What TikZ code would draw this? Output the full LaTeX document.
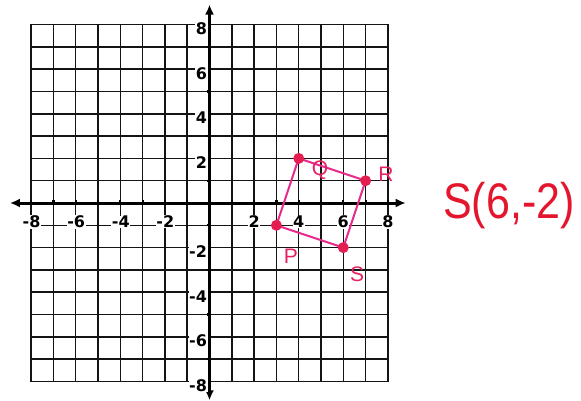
\documentclass[tikz,border=0pt]{standalone}
\usepackage{fontspec}
\setmainfont{Liberation Sans}
\newfontfamily\labfont{DejaVu Sans}
\usetikzlibrary{arrows.meta}
\definecolor{gridk}{RGB}{20,20,20}
\definecolor{pinkline}{RGB}{232,40,140}
\definecolor{pinkdot}{RGB}{228,30,80}
\definecolor{pinklab}{RGB}{230,35,95}
\definecolor{redtxt}{RGB}{228,22,45}
\tikzset{
  gridline/.style={line width=1.5pt, draw=gridk, line cap=rect},
  axisline/.style={line width=3pt, draw=black, {Latex[length=10pt,width=9pt]}-{Latex[length=10pt,width=9pt]}},
  ticklbl/.style={font=\labfont\bfseries\fontsize{16}{16}\selectfont, fill=white, inner sep=0.6pt},
  tickmark/.style={line width=2.2pt, draw=black},
  polyline/.style={line width=2pt, draw=pinkline, line join=round},
  vertex/.style={circle, fill=pinkdot, inner sep=0pt, minimum size=11pt},
  ptlbl/.style={text=pinklab, font=\fontsize{21}{21}\selectfont},
  bigtxt/.style={text=redtxt, font=\fontsize{50}{50}\selectfont},
}
\begin{document}
\begin{tikzpicture}[x=1pt,y=-1pt]
\useasboundingbox (0,0) rectangle (581,401);
\fill[white] (0,0) rectangle (581,401);
\begin{scope}[shift={(209.5,203)}, x=22.3pt, y=22.3pt]
  \foreach \i in {-8,...,8} {
    \draw[gridline] (\i,-8) -- (\i,8);
    \draw[gridline] (-8,\i) -- (8,\i);
  }
  \coordinate (xl) at (-8.95,0);
  \coordinate (xr) at (8.8,0);
  \coordinate (yt) at (0,8.9);
  \coordinate (yb) at (0,-8.85);
  \draw[axisline] (xl) -- (xr);
  \draw[axisline] (yb) -- (yt);
  \foreach \i in {-8,...,8} {
    \draw[tickmark] (\i,-0.06) -- (\i,0.12);
    \draw[tickmark] (-0.12,\i) -- (0.06,\i);
  }
  \foreach \i in {-8,-6,-4,-2} {
    \node[ticklbl] (xlab\i) at (\i+0.02,-0.85) {\i};
    \node[ticklbl, anchor=east] (ylab\i) at (-0.08,\i-0.18) {\i};
  }
  \foreach \i in {2,4,6,8} {
    \node[ticklbl] (xlab\i) at (\i,-0.85) {\i};
    \node[ticklbl, anchor=east] (ylab\i) at (-0.08,\i-0.18) {\i};
  }
  \coordinate (cP) at (3,-1);
  \coordinate (cQ) at (4,2);
  \coordinate (cR) at (7,1);
  \coordinate (cS) at (6,-2);
  \draw[polyline] (cP) -- (cQ) -- (cR) -- (cS) -- cycle;
  \node[vertex] (P) at (cP) {};
  \node[vertex] (Q) at (cQ) {};
  \node[vertex] (R) at (cR) {};
  \node[vertex] (S) at (cS) {};
\end{scope}
\node[ptlbl] (lblQ) at (320,170) {Q};
\node[ptlbl] (lblR) at (386,174) {R};
\node[ptlbl] (lblP) at (291,256) {P};
\node[ptlbl] (lblS) at (357,274) {S};
\node[bigtxt] (coord) at (509,206) {\scalebox{0.86}[1]{S(6,-2)}};
\end{tikzpicture}
\end{document}
